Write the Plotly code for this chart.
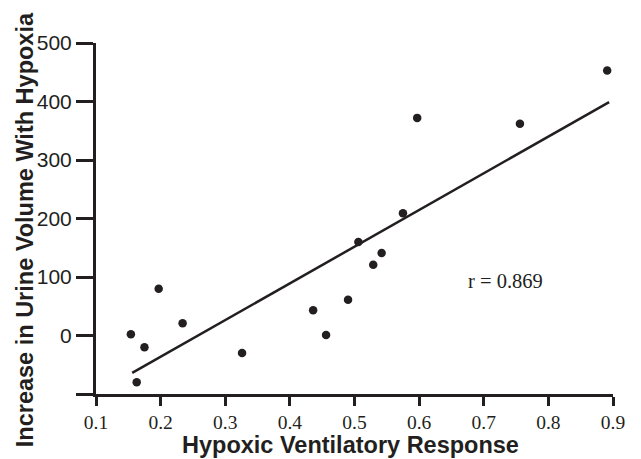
import plotly.graph_objects as go

# Hypoxic ventilatory response vs. increase in urine volume
hvr = [0.154, 0.163, 0.175, 0.197, 0.234, 0.326, 0.436, 0.456,
       0.490, 0.506, 0.529, 0.542, 0.575, 0.597, 0.756, 0.891]
urine = [2, -80, -20, 80, 21, -30, 43, 1,
         61, 160, 121, 141, 209, 372, 362, 453]

# Regression line end points
fit_x = [0.156, 0.894]
fit_y = [-64, 399]

x_ticks = [0.1, 0.2, 0.3, 0.4, 0.5, 0.6, 0.7, 0.8, 0.9]
y_ticks = [-100, 0, 100, 200, 300, 400, 500]
y_tick_text = ["", "0", "100", "200", "300", "400", "500"]

ink = "#231f20"

fig = go.Figure()
fig.add_trace(go.Scatter(
    x=fit_x, y=fit_y, mode="lines",
    line=dict(color=ink, width=2.5), hoverinfo="skip", showlegend=False,
))
fig.add_trace(go.Scatter(
    x=hvr, y=urine, mode="markers",
    marker=dict(color=ink, size=8.5, line=dict(width=0)), showlegend=False,
))

fig.add_annotation(
    x=0.734, y=93, xref="x", yref="y", text="r = 0.869", showarrow=False,
    font=dict(family="Liberation Serif", size=20.5, color=ink),
)
fig.add_annotation(
    x=0.4926, y=0, xref="paper", yref="paper", yshift=-51,
    text="<b>Hypoxic Ventilatory Response</b>", showarrow=False,
    xanchor="center", yanchor="middle",
    font=dict(family="Liberation Sans", size=23.5, color=ink),
)
fig.add_annotation(
    x=0, y=0.4667, xref="paper", yref="paper", xshift=-71,
    text="<b>Increase in Urine Volume With Hypoxia</b>", showarrow=False,
    textangle=-90, xanchor="center", yanchor="middle",
    font=dict(family="Liberation Sans", size=23.5, color=ink),
)

fig.update_layout(
    width=641, height=459,
    margin=dict(l=96, r=28, t=43, b=65),
    paper_bgcolor="white", plot_bgcolor="white",
    xaxis=dict(
        range=[0.1, 0.9], tickvals=x_ticks, ticktext=[str(v) for v in x_ticks],
        showgrid=False, zeroline=False, showline=True, linecolor=ink, linewidth=3,
        ticks="outside", ticklen=9, tickwidth=2.5, tickcolor=ink,
        tickfont=dict(family="Liberation Serif", size=19.5, color=ink),
    ),
    yaxis=dict(
        range=[-100, 500], tickvals=y_ticks, ticktext=y_tick_text,
        showgrid=False, zeroline=False, showline=True, linecolor=ink, linewidth=3,
        ticks="outside", ticklen=17, tickwidth=2.5, tickcolor=ink,
        tickfont=dict(family="Liberation Sans", size=21, color=ink),
    ),
)

fig.write_html("out.html")
